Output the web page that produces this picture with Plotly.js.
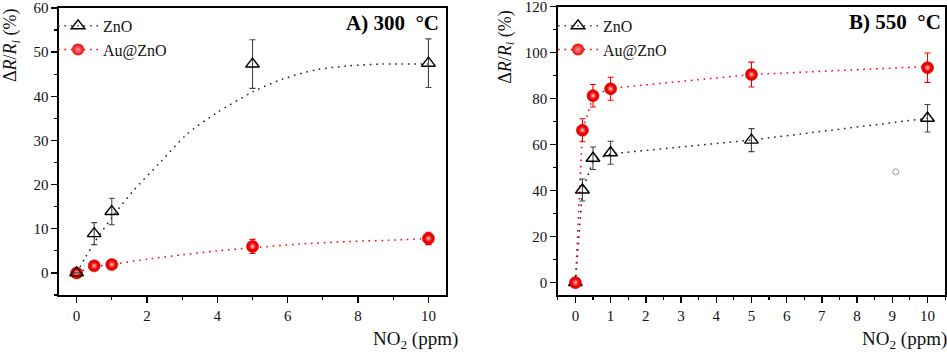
<!DOCTYPE html>
<html>
<head>
<meta charset="utf-8">
<script src="https://cdn.plot.ly/plotly-3.0.1.min.js"></script>
<style>html,body{margin:0;padding:0;background:#fff}#chart{width:947px;height:354px}</style>
</head>
<body>
<div id="chart"></div>
<script>
// ---------- Data: panel A (300 °C) ----------
const concA = [0, 0.5, 1, 5, 10];
const znoA = [0, 8.9, 13.9, 47.3, 47.5];
const znoAErr = [0, 2.5, 3.0, 5.5, 5.5];
const auA = [0, 1.6, 1.9, 6.0, 7.8];
const auAErr = [0.3, 0.5, 0.5, 1.6, 1.4];
const fitZnoAx = [0, 0.25, 0.5, 1, 1.6, 2.36, 3.12, 3.97, 5.03, 5.86, 6.81, 7.75, 8.7, 10];
const fitZnoAy = [0, 3.5, 6.8, 12.5, 18.5, 24.9, 31.3, 36.2, 41.1, 43.9, 46.0, 46.9, 47.3, 47.3];
const fitAuAx = [0, 0.5, 1, 2, 3, 4, 5, 6.3, 7.75, 9.2, 10];
const fitAuAy = [0, 1.4, 1.9, 3.1, 4.1, 5.0, 5.7, 6.5, 7.1, 7.5, 7.8];

// ---------- Data: panel B (550 °C) ----------
const concB = [0, 0.2, 0.5, 1, 5, 10];
const znoB = [0, 40.3, 54.1, 56.5, 62.0, 71.5];
const znoBErr = [0, 4.8, 4.9, 5.0, 5.0, 6.0];
const auB = [0, 66.3, 81.3, 84.3, 90.5, 93.5];
const auBErr = [0, 5.0, 4.9, 5.0, 5.4, 6.4];
const fitZnoBx = [0, 0.2, 0.5, 1, 5, 10];
const fitZnoBy = [0, 40, 53, 56, 62, 71.5];
const fitAuBx = [0, 0.2, 0.5, 1, 5, 10];
const fitAuBy = [0, 66, 81, 84.5, 90.5, 94];
const strayX = [9.1];
const strayY = [48.2];

const seriesNames = ['ZnO', 'Au@ZnO'];

// ---------- Styles ----------
const FONT = '"Liberation Serif", "Times New Roman", serif';
const RED = '#ff0000';
const DOT = '1.6px,4.8px';
const triMarker = {symbol: 'triangle-up-open', size: 12, color: '#000', line: {color: '#000', width: 1.4}};
const ballMarker = {symbol: 'circle', size: 12, color: '#f00000', line: {width: 0.6, color: '#c00000'}};
const shineMarker = {symbol: 'circle', size: 7, color: '#f00000', line: {width: 0},
  gradient: {type: 'radial', color: '#ffc8c8'}};
const legendBall = {symbol: 'circle', size: 12, color: '#f00000', line: {width: 0},
  gradient: {type: 'radial', color: '#ff9a9a'}};

function fit(x, y, color, xa, ya, shape) {
  return {x: x, y: y, xaxis: xa, yaxis: ya, mode: 'lines', showlegend: false, hoverinfo: 'skip',
    line: {color: color, width: 1.5, dash: DOT, shape: shape, smoothing: 0.8}};
}
function pts(x, y, err, marker, ecolor, xa, ya) {
  return {x: x, y: y, xaxis: xa, yaxis: ya, mode: 'markers', showlegend: false, marker: marker,
    error_y: {type: 'data', array: err, visible: true, color: ecolor, thickness: 1.1, width: 3}};
}
function shine(x, y, xa, ya) {
  return {x: x, y: y, xaxis: xa, yaxis: ya, mode: 'markers', showlegend: false, hoverinfo: 'skip', marker: shineMarker};
}
function legendItem(name, marker, color, legend) {
  return {x: [null], y: [null], name: name, mode: 'lines+markers', legend: legend,
    marker: marker, line: {color: color, width: 1.5, dash: DOT}};
}

const traces = [
  // panel A
  fit(fitAuAx, fitAuAy, RED, 'x', 'y', 'spline'),
  fit(fitZnoAx, fitZnoAy, '#222', 'x', 'y', 'spline'),
  pts(concA, auA, auAErr, ballMarker, RED, 'x', 'y'),
  shine(concA, auA, 'x', 'y'),
  pts(concA, znoA, znoAErr, triMarker, '#444', 'x', 'y'),
  legendItem(seriesNames[0], triMarker, '#444', 'legend'),
  legendItem(seriesNames[1], legendBall, RED, 'legend'),
  // panel B
  fit(fitZnoBx, fitZnoBy, '#222', 'x2', 'y2', 'linear'),
  fit(fitAuBx, fitAuBy, RED, 'x2', 'y2', 'linear'),
  pts(concB, znoB, znoBErr, triMarker, '#444', 'x2', 'y2'),
  pts(concB, auB, auBErr, ballMarker, RED, 'x2', 'y2'),
  shine(concB, auB, 'x2', 'y2'),
  {x: strayX, y: strayY, xaxis: 'x2', yaxis: 'y2', mode: 'markers', showlegend: false,
   marker: {symbol: 'circle-open', size: 6, color: '#999', line: {width: 1}}},
  legendItem(seriesNames[0], triMarker, '#444', 'legend2'),
  legendItem(seriesNames[1], legendBall, RED, 'legend2')
];

function axis(domain, range, dtick, minorDtick, anchor) {
  return {domain: domain, range: range, dtick: dtick, tick0: 0, anchor: anchor,
    showgrid: false, zeroline: false, showline: true, mirror: true,
    linecolor: '#000', linewidth: 1.6, ticks: 'outside', ticklen: 6, tickwidth: 1.4, tickcolor: '#000',
    minor: {dtick: minorDtick, tick0: 0, ticks: 'outside', ticklen: 3, tickwidth: 1.2, tickcolor: '#000', showgrid: false},
    tickfont: {family: FONT, size: 15, color: '#111'}, automargin: false, ticklabeloverflow: 'allow'};
}

const legendBase = {font: {family: FONT, size: 16, color: '#111'}, bgcolor: 'rgba(0,0,0,0)',
  borderwidth: 0, xanchor: 'left', yanchor: 'top', itemwidth: 40, tracegroupgap: 0};

const layout = {
  width: 947, height: 354,
  margin: {l: 0, r: 0, t: 4, b: 0},
  paper_bgcolor: '#fff', plot_bgcolor: '#fff',
  font: {family: FONT, color: '#111'},
  xaxis: axis([0.0623, 0.471], [-0.5, 10.5], 2, 1, 'y'),
  yaxis: axis([0.1686, 0.9886], [-5, 60], 10, 5, 'x'),
  xaxis2: axis([0.589, 0.998], [-0.5, 10.5], 1, 0.5, 'y2'),
  yaxis2: axis([0.1677, 0.9923], [-5.5, 120.01], 20, 10, 'x2'),
  legend: Object.assign({}, legendBase, {x: 0.056, y: 0.986}),
  legend2: Object.assign({}, legendBase, {x: 0.584, y: 0.986}),
  annotations: [
    {xref: 'paper', yref: 'paper', x: 0.4657, y: 0.946, xanchor: 'right', yanchor: 'middle', showarrow: false,
     text: '<b>A) 300 \u00a0°C</b>', font: {family: FONT, size: 21, color: '#000'}},
    {xref: 'paper', yref: 'paper', x: 0.9958, y: 0.950, xanchor: 'right', yanchor: 'middle', showarrow: false,
     text: '<b>B) 550 \u00a0°C</b>', font: {family: FONT, size: 21, color: '#000'}},
    {xref: 'paper', yref: 'paper', x: 0.3918, y: 0.04, xanchor: 'left', yanchor: 'middle', showarrow: false,
     text: 'NO<sub>2</sub> (ppm)', font: {family: FONT, size: 19, color: '#111'}},
    {xref: 'paper', yref: 'paper', x: 0.908, y: 0.04, xanchor: 'left', yanchor: 'middle', showarrow: false,
     text: 'NO<sub>2</sub> (ppm)', font: {family: FONT, size: 19, color: '#111'}},
    {xref: 'paper', yref: 'paper', x: 0.0127, y: 0.883, xanchor: 'center', yanchor: 'middle', showarrow: false, textangle: -90,
     text: 'Δ<i>R</i>/<i>R</i><sub><i>i</i></sub> (%)', font: {family: FONT, size: 18, color: '#111'}},
    {xref: 'paper', yref: 'paper', x: 0.534, y: 0.877, xanchor: 'center', yanchor: 'middle', showarrow: false, textangle: -90,
     text: 'Δ<i>R</i>/<i>R</i><sub><i>i</i></sub> (%)', font: {family: FONT, size: 18, color: '#111'}}
  ]
};

Plotly.newPlot('chart', traces, layout, {displayModeBar: false, staticPlot: true});
</script>
</body>
</html>
